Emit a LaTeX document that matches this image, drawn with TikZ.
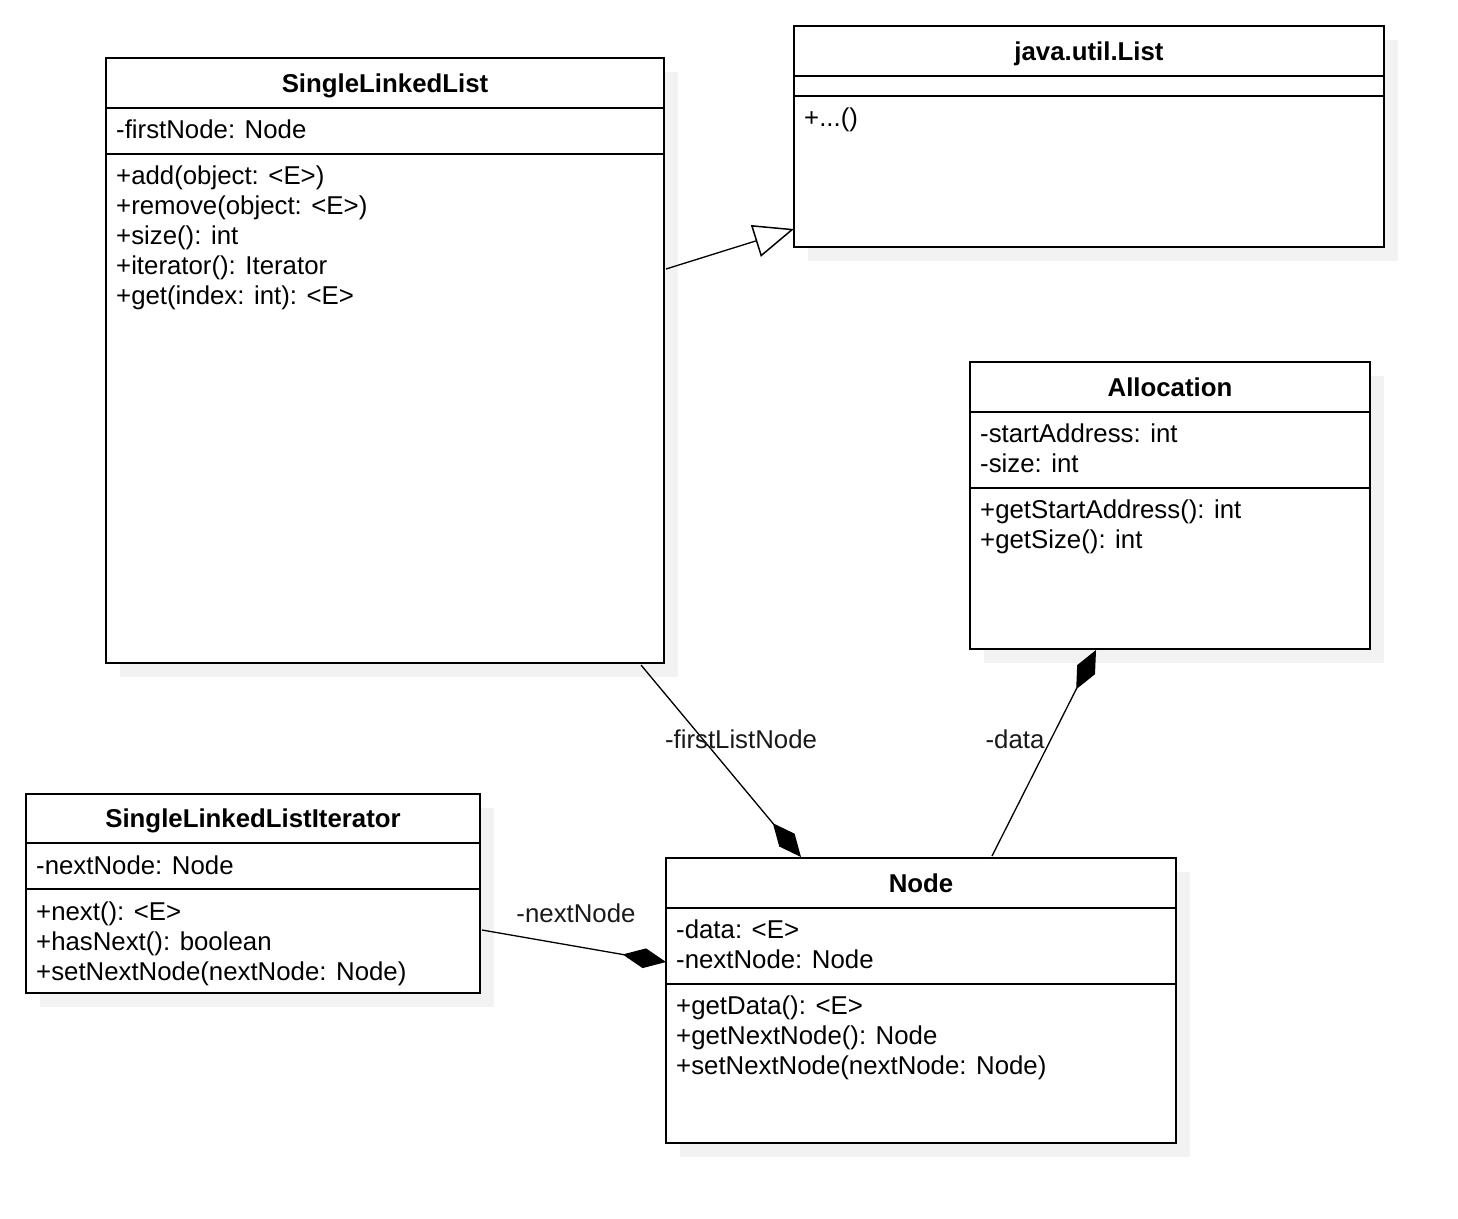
\documentclass[tikz,border=0pt]{standalone}
\usepackage{fontspec}
\setmainfont{Liberation Sans}
\usetikzlibrary{arrows.meta,calc}
\definecolor{shadowgray}{HTML}{F2F2F2}
\definecolor{labeltext}{HTML}{1A1A1A}

\tikzset{
  classbox/.style={draw=black, line width=1.5pt, fill=white, rectangle,
    inner sep=0pt, outer sep=0pt, anchor=north west},
  divider/.style={line width=1.5pt},
  member/.style={anchor=base west, inner sep=0pt, font=\fontsize{25.8}{30}\selectfont},
  classtitle/.style={anchor=base, inner sep=0pt, font=\bfseries\fontsize{25.8}{30}\selectfont},
  link/.style={line width=1.3pt},
  linklabel/.style={anchor=base, inner sep=0pt, text=labeltext,
    font=\fontsize{25.8}{30}\selectfont},
  generalization/.style={link, -{Triangle[open, length=40pt, width=33pt, line width=1.5pt]}},
  composition/.style={link, -{Diamond[length=44pt, width=20pt]}},
}

% #1 name, #2 left, #3 top, #4 right, #5 bottom, #6 first divider, #7 second divider, #8 title
\newcommand\umlclass[8]{%
  \fill[shadowgray] (#2+14,#3+14) rectangle (#4+14,#5+14);
  \node[classbox, minimum width={(#4-#2)*1pt}, minimum height={(#5-#3)*1pt}] (#1) at (#2,#3) {};
  \draw[divider] (#2,#6) -- (#4,#6);
  \draw[divider] (#2,#7) -- (#4,#7);
  \node[classtitle] (#1-title) at ({(#2+#4)/2},{(#3+#6)/2+9}) {#8};
}
% #1 name, #2 left of box, #3 vertical centre of the line, #4 text
\newcommand\member[4]{\node[member] (#1) at (#2+10,#3+9) {#4};}

\begin{document}
\begin{tikzpicture}[x=1pt, y=-1pt]
\useasboundingbox (0,0) rectangle (1458,1218);
\fill[white] (0,0) rectangle (1458,1218);

% SingleLinkedList
\umlclass{sll}{106}{58}{664}{663}{108}{154}{SingleLinkedList}
\member{sll-a1}{106}{129}{-firstNode: Node}
\member{sll-m1}{106}{175}{+add(object: <E>)}
\member{sll-m2}{106}{205}{+remove(object: <E>)}
\member{sll-m3}{106}{235}{+size(): int}
\member{sll-m4}{106}{265}{+iterator(): Iterator}
\member{sll-m5}{106}{295}{+get(index: int): <E>}

% java.util.List
\umlclass{list}{794}{26}{1384}{247}{76}{96}{java.util.List}
\member{list-m1}{794}{117}{+...()}

% Allocation
\umlclass{alloc}{970}{362}{1370}{649}{412}{488}{Allocation}
\member{alloc-a1}{970}{433}{-startAddress: int}
\member{alloc-a2}{970}{463}{-size: int}
\member{alloc-m1}{970}{509}{+getStartAddress(): int}
\member{alloc-m2}{970}{539}{+getSize(): int}

% SingleLinkedListIterator
\umlclass{iter}{26}{794}{480}{993}{843}{889}{SingleLinkedListIterator}
\member{iter-a1}{26}{865}{-nextNode: Node}
\member{iter-m1}{26}{911}{+next(): <E>}
\member{iter-m2}{26}{941}{+hasNext(): boolean}
\member{iter-m3}{26}{971}{+setNextNode(nextNode: Node)}

% Node
\umlclass{node}{666}{858}{1176}{1143}{908}{984}{Node}
\member{node-a1}{666}{929}{-data: <E>}
\member{node-a2}{666}{959}{-nextNode: Node}
\member{node-m1}{666}{1005}{+getData(): <E>}
\member{node-m2}{666}{1035}{+getNextNode(): Node}
\member{node-m3}{666}{1065}{+setNextNode(nextNode: Node)}

% Relations
\draw[generalization] ($(sll.north east)+(2,211)$) -- ($(list.north west)+(0,203)$);
\draw[composition] ($(sll.south east)+(-23,2)$) -- ($(node.north west)+(135,-1)$);
\draw[composition] ($(node.north west)+(326,-2)$) -- ($(alloc.south west)+(126,1)$);
\draw[composition] ($(iter.south east)+(2,-63)$) -- ($(node.north west)+(0,104)$);

\node[linklabel] (lbl-first) at (741,748) {-firstListNode};
\node[linklabel] (lbl-data) at (1015,748) {-data};
\node[linklabel] (lbl-next) at (576,922) {-nextNode};
\end{tikzpicture}
\end{document}
